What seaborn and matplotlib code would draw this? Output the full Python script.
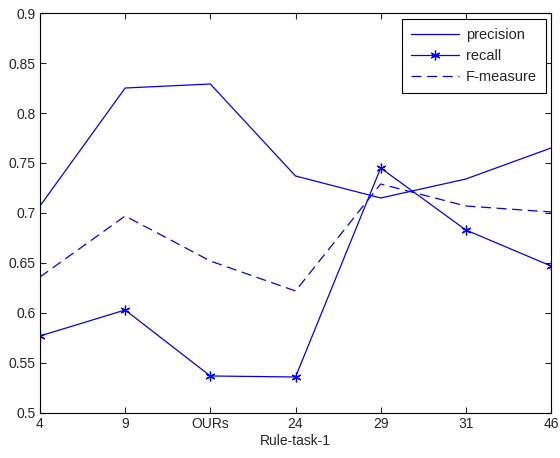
import matplotlib
matplotlib.use("Agg")
import matplotlib.pyplot as plt
import seaborn as sns
import pandas as pd
import numpy as np

categories = ["4", "9", "OURs", "24", "29", "31", "46"]
precision = [0.707, 0.825, 0.829, 0.737, 0.715, 0.734, 0.765]
recall = [0.577, 0.603, 0.537, 0.536, 0.745, 0.683, 0.647]
fmeasure = [0.636, 0.697, 0.652, 0.622, 0.729, 0.707, 0.701]

sns.set_style("ticks")
plt.rcParams['font.family'] = ['Liberation Sans', 'DejaVu Sans']

pos = np.arange(len(categories))
df = pd.DataFrame({"pos": pos, "precision": precision, "recall": recall, "F-measure": fmeasure})

fig = plt.figure(figsize=(5.6, 4.58), dpi=100)
ax = fig.add_axes([0.0714, 0.0983, 0.9126, 0.8733])

blue = (0, 0, 1)
sns.lineplot(data=df, x="pos", y="precision", ax=ax, color=blue, lw=0.9, label="precision", sort=False)
sns.lineplot(data=df, x="pos", y="recall", ax=ax, color=blue, lw=0.9, marker=(6, 2, 0), markersize=7,
             markeredgecolor=blue, markeredgewidth=0.9, label="recall", sort=False)
sns.lineplot(data=df, x="pos", y="F-measure", ax=ax, color=blue, lw=0.9, linestyle=(0, (8, 4.5)),
             label="F-measure", sort=False)

ax.set_xlim(0, len(categories) - 1)
ax.set_ylim(0.5, 0.9)
ax.set_xticks(pos)
ax.set_xticklabels(categories)
ax.set_yticks(np.arange(0.5, 0.901, 0.05))
ax.set_yticklabels(["0.5", "0.55", "0.6", "0.65", "0.7", "0.75", "0.8", "0.85", "0.9"])
ax.tick_params(direction="in", length=4, width=0.8, labelsize=10, top=True, right=True, pad=3)
ax.set_xlabel("Rule-task-1", fontsize=10, labelpad=2)
ax.set_ylabel("")
for s in ax.spines.values():
    s.set_linewidth(0.8)
    s.set_color("black")

leg = ax.legend(loc="upper right", fontsize=10.5, frameon=True, fancybox=False, edgecolor="black",
                framealpha=1, handlelength=3.3, borderpad=0.6, labelspacing=0.5, handletextpad=0.5,
                borderaxespad=0, bbox_to_anchor=(0.990, 0.985))
leg.get_frame().set_linewidth(0.8)

fig.savefig("out.png", dpi=100)
